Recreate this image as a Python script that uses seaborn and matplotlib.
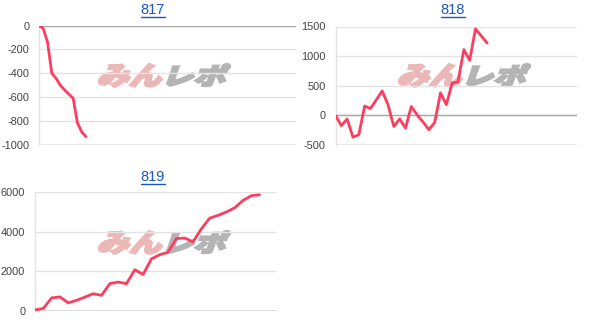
import matplotlib
matplotlib.use("Agg")
import matplotlib.pyplot as plt
import seaborn as sns
import pandas as pd
from matplotlib.textpath import TextPath
from matplotlib.patches import PathPatch
from matplotlib.font_manager import FontProperties
from matplotlib.transforms import Affine2D
from matplotlib.lines import Line2D

# ---------------- data ----------------
titles = ["817", "818", "819"]
values_817 = [0, -25, -140, -400, -442, -500, -540, -575, -608, -815, -890, -930]
values_818 = [0, -175, -62, -368, -326, 157, 115, 263, 412, 180, -187, -60, -215,
              150, 7, -110, -242, -120, 380, 180, 545, 565, 1110, 930, 1460, 1340, 1220]
values_819 = [50, 130, 660, 710, 410, 540, 700, 870, 790, 1380, 1460, 1380, 2080,
              1840, 2630, 2840, 2960, 3650, 3680, 3480, 4140, 4680, 4820, 4990,
              5200, 5570, 5810, 5860]
yticks_817 = [0, -200, -400, -600, -800, -1000]
yticks_818 = [1500, 1000, 500, 0, -500]
yticks_819 = [6000, 4000, 2000, 0]

series = [values_817, values_818, values_819]
yticks = [yticks_817, yticks_818, yticks_819]

# ---------------- layout / style ----------------
W, H, DPI = 600, 332, 100
LINE = "#fd3d5d"
GRID = "#e3e3e3"
BASE = "#a8a8a8"
LABEL = "#444444"
TITLE = "#1a55c4"

# axes boxes in pixel coords: (left, top, right, bottom)
boxes = [(39, 25.5, 296, 145), (335.5, 26.5, 577, 145), (35, 192, 277, 311)]
xspans = [60.2, 41.4, 29.1]
title_pos = [(153, 10), (453, 10), (153, 177)]
wm_offsets = [(0, 0), (300, 0), (0, 167)]

sns.set_theme(style="white")
plt.rcParams["font.family"] = ["Liberation Sans", "DejaVu Sans"]
plt.rcParams["axes.unicode_minus"] = False

fig = plt.figure(figsize=(W / DPI, H / DPI), dpi=DPI)
fig.patch.set_facecolor("white")

# overlay (pixel coordinates) for watermark
ov = fig.add_axes([0, 0, 1, 1], zorder=-1)
ov.set_xlim(0, W)
ov.set_ylim(H, 0)
ov.axis("off")

jp = FontProperties(family="Noto Sans CJK JP", weight="heavy")


def fit_text(s, box, color):
    path = TextPath((0, 0), s, size=100, prop=jp)
    path = Affine2D().skew_deg(14, 0).transform_path(path)
    ext = path.get_extents()
    bx0, by0, bx1, by1 = box
    tr = (Affine2D().translate(-ext.x0, -ext.y0)
          .scale((bx1 - bx0) / ext.width, -(by1 - by0) / ext.height)
          .translate(bx0, by1))
    ov.add_patch(PathPatch(tr.transform_path(path), facecolor=color,
                           edgecolor=color, linewidth=1.6, joinstyle="miter",
                           transform=ov.transData))


for (dx, dy) in wm_offsets:
    fit_text("みん", (99 + dx, 64 + dy, 162 + dx, 87 + dy), "#ebb7b7")
    fit_text("レポ", (167 + dx, 64 + dy, 230 + dx, 86 + dy), "#b4b4b4")

for i, vals in enumerate(series):
    l, t, r, b = boxes[i]
    ax = fig.add_axes([l / W, (H - b) / H, (r - l) / W, (b - t) / H])
    ax.set_facecolor("none")
    df = pd.DataFrame({"x": range(len(vals)), "y": vals})
    sns.lineplot(data=df, x="x", y="y", ax=ax, color=LINE, linewidth=2.0,
                 zorder=5)
    ax.set_xlim(0, xspans[i])
    yt = yticks[i]
    ax.set_ylim(min(yt), max(yt))
    ax.set_yticks(yt)
    ax.set_yticklabels([str(v) for v in yt])
    ax.set_xticks([])
    ax.set_xlabel("")
    ax.set_ylabel("")
    ax.tick_params(axis="y", length=0, pad=7, labelsize=7.9, labelcolor=LABEL)
    for v in yt:
        ax.axhline(v, color=GRID, linewidth=1.0, zorder=1)
    ax.axhline(0, color=BASE, linewidth=1.0, zorder=2)
    ax.axhline(min(yt), color=BASE, linewidth=1.0, zorder=2)
    for s in ["top", "right", "bottom"]:
        ax.spines[s].set_visible(False)
    ax.spines["left"].set_color(GRID)
    ax.spines["left"].set_linewidth(1.0)

    tx, ty = title_pos[i]
    txt = fig.text(tx / W, (H - ty) / H, titles[i], ha="center", va="center",
                   fontsize=10.5, color=TITLE)
    fig.canvas.draw()
    bb = txt.get_window_extent()
    uy = bb.y0 - 0.3
    fig.add_artist(Line2D([bb.x0 / W, bb.x1 / W], [uy / H, uy / H],
                          color=TITLE, linewidth=1.0,
                          transform=fig.transFigure))

fig.savefig("out.png", dpi=DPI)
